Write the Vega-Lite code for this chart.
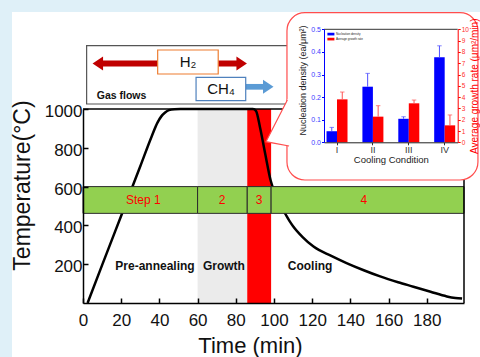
{
  "$schema": "https://vega.github.io/schema/vega-lite/v6.json",
  "width": 381,
  "height": 194,
  "autosize": {"type": "none"},
  "padding": {"left": 83, "top": 109, "right": 16, "bottom": 54},
  "background": "white",
  "config": {
    "font": "Liberation Sans",
    "view": {"stroke": null},
    "axis": {"grid": false, "labelFlush": false, "labelOverlap": false, "titleFontWeight": "normal"}
  },
  "layer": [
    {
      "layer": [
        {"data": {"values": [{}]}, "mark": {"type": "rect", "color": "#dff0f8"},
         "encoding": {"x": {"datum": -60}, "x2": {"datum": -37.18}, "y": {"datum": -500}, "y2": {"datum": 2500}}},
        {"data": {"values": [{}]}, "mark": {"type": "rect", "color": "#dff0f8"},
         "encoding": {"x": {"datum": -60}, "x2": {"datum": 240}, "y": {"datum": 1500}, "y2": {"datum": 2500}}},
        {"data": {"values": [{"phase": "Growth", "start": 60, "end": 86}]},
         "mark": {"type": "rect", "color": "#ebebeb"},
         "encoding": {"x": {"field": "start", "type": "quantitative"}, "x2": {"field": "end"}, "y": {"datum": 0}, "y2": {"datum": 1000}}},
        {"data": {"values": [{"phase": "Cooling start", "start": 86, "end": 98.5}]},
         "mark": {"type": "rect", "color": "#ff0000"},
         "encoding": {"x": {"field": "start", "type": "quantitative"}, "x2": {"field": "end"}, "y": {"datum": 0}, "y2": {"datum": 1000}}},
        {"data": {"values": [
          {"t": 2.4, "temp": 0}, {"t": 10, "temp": 195}, {"t": 20, "temp": 450}, {"t": 30, "temp": 705},
          {"t": 36, "temp": 860}, {"t": 39, "temp": 930}, {"t": 41, "temp": 962}, {"t": 43, "temp": 982},
          {"t": 45, "temp": 994}, {"t": 48, "temp": 999}, {"t": 51, "temp": 1000}, {"t": 89, "temp": 1000},
          {"t": 90.6, "temp": 990}, {"t": 92.7, "temp": 905}, {"t": 95.3, "temp": 775}, {"t": 98.3, "temp": 630},
          {"t": 100.5, "temp": 565}, {"t": 103, "temp": 508}, {"t": 105.8, "temp": 462}, {"t": 108, "temp": 425},
          {"t": 110, "temp": 396}, {"t": 115, "temp": 340}, {"t": 120.7, "temp": 291}, {"t": 130, "temp": 243},
          {"t": 138, "temp": 206}, {"t": 147, "temp": 169}, {"t": 155.6, "temp": 137}, {"t": 165, "temp": 107},
          {"t": 173, "temp": 84}, {"t": 182, "temp": 58}, {"t": 190.5, "temp": 34}, {"t": 195, "temp": 26},
          {"t": 198.5, "temp": 23}
        ]},
         "mark": {"type": "line", "color": "#000000", "strokeWidth": 2.5, "interpolate": "monotone"},
         "encoding": {
           "x": {"field": "t", "type": "quantitative",
                 "scale": {"domain": [0, 199.5], "nice": false, "zero": false},
                 "axis": {"values": [0, 20, 40, 60, 80, 100, 120, 140, 160, 180], "title": "Time (min)",
                          "titleFontSize": 22, "titleColor": "#111111", "titleX": 167, "titleY": 42,
                          "titleBaseline": "middle", "titleAlign": "center",
                          "labelFontSize": 17, "labelColor": "#111111", "labelPadding": 14,
                          "tickSize": -5, "tickWidth": 1.5, "tickColor": "#000000",
                          "domainColor": "#000000", "domainWidth": 1.5, "zindex": 1}},
           "y": {"field": "temp", "type": "quantitative",
                 "scale": {"domain": [0, 1000], "nice": false},
                 "axis": {"values": [200, 400, 600, 800, 1000], "format": "d", "title": "Temperature(°C)",
                          "titleFontSize": 23, "titleColor": "#111111", "titleX": -61, "titleY": 76,
                          "titleAngle": 270, "titleBaseline": "middle", "titleAlign": "center",
                          "labelFontSize": 17, "labelColor": "#111111", "labelPadding": 6, "labelOffset": 2.5,
                          "tickSize": -5, "tickWidth": 1.5, "tickColor": "#000000",
                          "domainColor": "#000000", "domainWidth": 1.5, "zindex": 1}}
         }},
        {"data": {"values": [
          {"step": "Step 1", "start": 0, "end": 60, "mid": 31.6},
          {"step": "2", "start": 60, "end": 86, "mid": 72.8},
          {"step": "3", "start": 86, "end": 98.5, "mid": 92.2},
          {"step": "4", "start": 98.5, "end": 199.5, "mid": 147}
        ]},
         "layer": [
           {"mark": {"type": "rect", "fill": "#92d050", "stroke": "#2b2b2b", "strokeWidth": 1},
            "encoding": {"x": {"field": "start", "type": "quantitative"}, "x2": {"field": "end"}, "y": {"datum": 462}, "y2": {"datum": 600}}},
           {"mark": {"type": "text", "color": "#ff0000", "fontSize": 12, "align": "center", "baseline": "middle"},
            "encoding": {"x": {"field": "mid", "type": "quantitative"}, "y": {"datum": 531}, "text": {"field": "step"}}}
         ]},
        {"data": {"values": [
          {"label": "Pre-annealing", "t": 37.7}, {"label": "Growth", "t": 73.8}, {"label": "Cooling", "t": 118.9}
        ]},
         "mark": {"type": "text", "fontSize": 12, "fontWeight": "bold", "color": "#111111", "align": "center", "baseline": "middle"},
         "encoding": {"x": {"field": "t", "type": "quantitative"}, "y": {"datum": 190}, "text": {"field": "label"}}},
        {"data": {"values": [{}]}, "mark": {"type": "rule", "color": "#000000", "strokeWidth": 1.5},
         "encoding": {"x": {"datum": 0}, "x2": {"datum": 199.5}, "y": {"datum": 1000}}},
        {"data": {"values": [{}]}, "mark": {"type": "rule", "color": "#000000", "strokeWidth": 1.5},
         "encoding": {"x": {"datum": 199.5}, "y": {"datum": 0}, "y2": {"datum": 1000}}},
        {"data": {"values": [{}]}, "mark": {"type": "rect", "fill": "#ffffff", "stroke": "#555555", "strokeWidth": 1.2},
         "encoding": {"x": {"datum": 1.9}, "x2": {"datum": 111}, "y": {"datum": 1025.8}, "y2": {"datum": 1326.3}}},
        {"data": {"values": [{}]}, "mark": {"type": "rule", "color": "#c00000", "strokeWidth": 6},
         "encoding": {"x": {"datum": 9.0}, "x2": {"datum": 81.5}, "y": {"datum": 1234.5}}},
        {"data": {"values": [{}]}, "mark": {"type": "point", "shape": "M0.75,-1L-0.75,0L0.75,1Z", "filled": true, "opacity": 1, "size": 196, "color": "#c00000", "strokeWidth": 0},
         "encoding": {"x": {"datum": 7.75}, "y": {"datum": 1234.5}}},
        {"data": {"values": [{}]}, "mark": {"type": "point", "shape": "M-0.75,-1L0.75,0L-0.75,1Z", "filled": true, "opacity": 1, "size": 196, "color": "#c00000", "strokeWidth": 0},
         "encoding": {"x": {"datum": 83.1}, "y": {"datum": 1234.5}}},
        {"data": {"values": [{}]}, "mark": {"type": "rect", "fill": "#ffffff", "stroke": "#ed7d31", "strokeWidth": 1.2},
         "encoding": {"x": {"datum": 39.1}, "x2": {"datum": 70.8}, "y": {"datum": 1180.4}, "y2": {"datum": 1304}}},
        {"data": {"values": [{"label": "H₂"}]}, "mark": {"type": "text", "fontSize": 15, "color": "#111111", "align": "center", "baseline": "middle"},
         "encoding": {"x": {"datum": 55}, "y": {"datum": 1242.3}, "text": {"field": "label"}}},
        {"data": {"values": [{}]}, "mark": {"type": "rule", "color": "#5b9bd5", "strokeWidth": 5.7},
         "encoding": {"x": {"datum": 85.2}, "x2": {"datum": 95.0}, "y": {"datum": 1114.4}}},
        {"data": {"values": [{}]}, "mark": {"type": "point", "shape": "M-0.75,-1L0.75,0L-0.75,1Z", "filled": true, "opacity": 1, "size": 196, "color": "#5b9bd5", "strokeWidth": 0},
         "encoding": {"x": {"datum": 97.0}, "y": {"datum": 1114.4}}},
        {"data": {"values": [{}]}, "mark": {"type": "rect", "fill": "#ffffff", "stroke": "#4f81bd", "strokeWidth": 1.2},
         "encoding": {"x": {"datum": 59.2}, "x2": {"datum": 85.2}, "y": {"datum": 1042.8}, "y2": {"datum": 1163.4}}},
        {"data": {"values": [{"label": "CH₄"}]}, "mark": {"type": "text", "fontSize": 15, "color": "#111111", "align": "center", "baseline": "middle"},
         "encoding": {"x": {"datum": 72.3}, "y": {"datum": 1103.1}, "text": {"field": "label"}}},
        {"data": {"values": [{"label": "Gas flows"}]}, "mark": {"type": "text", "fontSize": 10.5, "fontWeight": "bold", "color": "#111111", "align": "left", "baseline": "middle"},
         "encoding": {"x": {"datum": 7.2}, "y": {"datum": 1068.6}, "text": {"field": "label"}}},
        {"data": {"values": [{}]}, "mark": {"type": "rect", "fill": "#ffffff", "stroke": "#ff4d4d", "strokeWidth": 1.2, "cornerRadius": 18},
         "encoding": {"x": {"datum": 106.8}, "x2": {"datum": 206.8}, "y": {"datum": 634}, "y2": {"datum": 1496.4}}},
        {"data": {"values": [{"t": 95.8, "top": 831.4, "bottom": 831.4}, {"t": 108.4, "top": 1073.7, "bottom": 808.2}]},
         "mark": {"type": "area", "color": "#ffffff", "opacity": 1},
         "encoding": {"x": {"field": "t", "type": "quantitative"}, "y": {"field": "top", "type": "quantitative"}, "y2": {"field": "bottom"}}},
        {"data": {"values": [{"k": 1, "t": 107.0, "v": 1046.4}, {"k": 2, "t": 95.8, "v": 831.4}, {"k": 3, "t": 107.9, "v": 809.3}]},
         "mark": {"type": "line", "color": "#ff4d4d", "strokeWidth": 1.2},
         "encoding": {"x": {"field": "t", "type": "quantitative"}, "y": {"field": "v", "type": "quantitative"}, "order": {"field": "k"}}},
        {"data": {"values": [{}]}, "mark": {"type": "rule", "color": "#333333", "strokeWidth": 1},
         "encoding": {"x": {"datum": 126.2}, "x2": {"datum": 196.2}, "y": {"datum": 1410.8}}}
      ]
    },
    {
      "data": {"values": [
        {"cond": "I", "series": "Nucleation density", "value": 0.049, "upper": 0.066},
        {"cond": "II", "series": "Nucleation density", "value": 0.246, "upper": 0.305},
        {"cond": "III", "series": "Nucleation density", "value": 0.104, "upper": 0.113},
        {"cond": "IV", "series": "Nucleation density", "value": 0.376, "upper": 0.427},
        {"cond": "I", "series": "Average growth rate", "value": 3.8, "upper": 4.45},
        {"cond": "II", "series": "Average growth rate", "value": 2.27, "upper": 3.24},
        {"cond": "III", "series": "Average growth rate", "value": 3.45, "upper": 3.74},
        {"cond": "IV", "series": "Average growth rate", "value": 1.5, "upper": 2.42}
      ]},
      "encoding": {
        "x": {"field": "cond", "type": "nominal",
              "scale": {"domain": ["I", "II", "III", "IV"], "range": [241, 374.7], "paddingInner": 0.415, "paddingOuter": 0.07, "align": 0.5},
              "axis": {"orient": "bottom", "offset": -160.7, "title": "Cooling Condition", "titleFontSize": 9.5,
                       "titleColor": "#222222", "titlePadding": 0, "labelFontSize": 9, "labelColor": "#333333",
                       "labelAngle": 0, "labelPadding": 1, "tickSize": 2.5, "tickColor": "#333333",
                       "domainColor": "#222222", "domainWidth": 1, "zindex": 1}},
        "xOffset": {"field": "series", "type": "nominal",
                    "scale": {"domain": ["Nucleation density", "Average growth rate"], "paddingInner": 0, "paddingOuter": 0}}
      },
      "layer": [
        {
          "transform": [{"filter": "datum.series === 'Nucleation density'"}],
          "encoding": {
            "y": {"field": "value", "type": "quantitative",
                  "scale": {"domain": [0, 0.5], "nice": false, "range": [33.3, -79.7]},
                  "axis": {"orient": "left", "offset": -241, "values": [0, 0.1, 0.2, 0.3, 0.4, 0.5], "format": ".1f",
                           "labelFontSize": 7, "labelColor": "#3a3aff", "labelPadding": 1, "tickSize": 2.5,
                           "tickColor": "#0000ff", "domainColor": "#0000ff", "title": "Nucleation density (ea/μm²)",
                           "titleFontSize": 9, "titleColor": "#222222", "titlePadding": 3, "titleY": -29, "zindex": 1}}
          },
          "layer": [
            {"mark": {"type": "bar"},
             "encoding": {"color": {"field": "series", "type": "nominal",
                                    "scale": {"domain": ["Nucleation density", "Average growth rate"], "range": ["#0000ff", "#ff0000"]},
                                    "legend": {"orient": "none", "legendX": 245.4, "legendY": -77.4, "title": null,
                                               "labelFontSize": 3, "labelColor": "#222222",
                                               "symbolType": "M-1.5,-0.57H1.5V0.57H-1.5Z", "symbolSize": 22,
                                               "symbolStrokeWidth": 0, "rowPadding": 0, "labelOffset": 2.5, "padding": 0}}}},
            {"mark": {"type": "rule", "color": "#5050ff", "strokeWidth": 1},
             "encoding": {"y2": {"field": "upper"}}},
            {"mark": {"type": "tick", "color": "#5050ff", "size": 4.5, "thickness": 1},
             "encoding": {"y": {"field": "upper", "type": "quantitative"}}}
          ]
        },
        {
          "transform": [{"filter": "datum.series === 'Average growth rate'"}],
          "encoding": {
            "y": {"field": "value", "type": "quantitative",
                  "scale": {"domain": [0, 10], "nice": false, "range": [33.3, -79.7]},
                  "axis": {"orient": "right", "offset": -6.3, "values": [0, 1, 2, 3, 4, 5, 6, 7, 8, 9, 10],
                           "labelFontSize": 6.5, "labelColor": "#ff3030", "labelPadding": 1, "tickSize": 2.5,
                           "tickColor": "#ff0000", "domainColor": "#ff0000", "title": "Average growth rate (μm²/min)",
                           "titleFontSize": 10, "titleColor": "#ff0000", "titleAngle": 270, "titleBaseline": "top",
                           "titlePadding": 1, "zindex": 1}}
          },
          "layer": [
            {"mark": {"type": "bar"},
             "encoding": {"color": {"field": "series", "type": "nominal",
                                    "scale": {"domain": ["Nucleation density", "Average growth rate"], "range": ["#0000ff", "#ff0000"]},
                                    "legend": {"orient": "none", "legendX": 245.4, "legendY": -77.4, "title": null,
                                               "labelFontSize": 3, "labelColor": "#222222",
                                               "symbolType": "M-1.5,-0.57H1.5V0.57H-1.5Z", "symbolSize": 22,
                                               "symbolStrokeWidth": 0, "rowPadding": 0, "labelOffset": 2.5, "padding": 0}}}},
            {"mark": {"type": "rule", "color": "#ff5050", "strokeWidth": 1},
             "encoding": {"y2": {"field": "upper"}}},
            {"mark": {"type": "tick", "color": "#ff5050", "size": 4.5, "thickness": 1},
             "encoding": {"y": {"field": "upper", "type": "quantitative"}}}
          ]
        }
      ],
      "resolve": {"scale": {"y": "independent"}}
    }
  ],
  "resolve": {"scale": {"x": "independent", "y": "independent"}}
}
